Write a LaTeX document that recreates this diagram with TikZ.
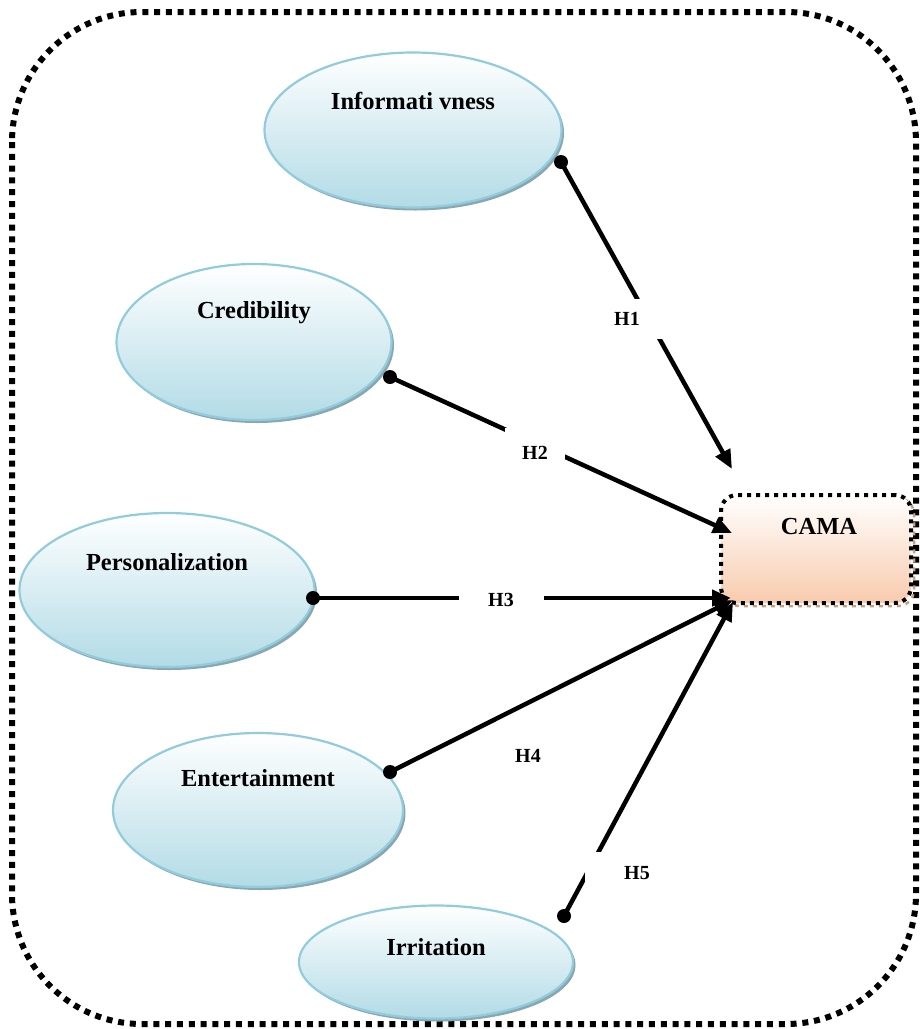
\documentclass[tikz,border=0pt]{standalone}
\usepackage{fontspec}
\setmainfont{Liberation Serif}
\usetikzlibrary{arrows.meta,shapes.geometric}
\definecolor{ellblue}{HTML}{B2DBE6}
\definecolor{ellborder}{HTML}{92CCDC}
\definecolor{ellshadow}{HTML}{88A7B1}
\definecolor{peach}{HTML}{F8CBAD}
\definecolor{camashadow}{HTML}{C9A07F}
\tikzset{
  ell/.style={ellipse, draw=ellborder, line width=2.2pt, top color=white, bottom color=ellblue,
    inner sep=0pt, preaction={fill=ellshadow, transform canvas={shift={(2.5pt,-3pt)}}}},
  ltext/.style={font=\fontsize{24.5}{28}\selectfont\bfseries, inner sep=0pt},
  camabox/.style={rectangle, rounded corners=16pt, top color=white, bottom color=peach,
    draw=black, line width=4pt, dash pattern=on 4pt off 5pt,
    preaction={draw=camashadow, line width=2.5pt, transform canvas={shift={(3pt,-3pt)}}},
    inner sep=0pt},
  frame/.style={line width=6pt, dash pattern=on 6pt off 5.8pt, rounded corners=130pt},
  conn/.style={line width=4.5pt, -{Triangle[length=19pt,width=16pt]}},
  hlab/.style={font=\fontsize{20}{24}\selectfont\bfseries, inner sep=0pt},
  hmask/.style={hlab, fill=white}
}
\begin{document}
\begin{tikzpicture}[x=1pt,y=-1pt]
\useasboundingbox (0,0) rectangle (920,1029);
\draw[frame] (12,12) rectangle (916,1024);

\node[ell, minimum width=297pt, minimum height=155pt,
  label={[ltext, yshift=29pt]center:Informati vness}] (inf) at (413,130) {};
\node[ell, minimum width=275pt, minimum height=156pt,
  label={[ltext, yshift=29pt]center:Credibility}] (cred) at (254,342) {};
\node[ell, minimum width=295pt, minimum height=154pt,
  label={[ltext, yshift=28pt]center:Personalization}] (pers) at (167,590) {};
\node[ell, minimum width=290pt, minimum height=154pt,
  label={[ltext, yshift=32pt]center:Entertainment}] (ent) at (258,810) {};
\node[ell, minimum width=274pt, minimum height=113pt,
  label={[ltext, yshift=15pt]center:Irritation}] (irr) at (436,962) {};

\node[camabox, minimum width=190pt, minimum height=108pt,
  label={[ltext, yshift=22pt, xshift=3pt]center:CAMA}] (cama) at (816,549) {};

\coordinate (s1) at (561,162); \coordinate (t1) at (732,469);
\coordinate (s2) at (390,377); \coordinate (t2) at (732,533);
\coordinate (s3) at (313,598); \coordinate (t3) at (731,598);
\coordinate (s4) at (390,772); \coordinate (t4) at (733,600);
\coordinate (s5) at (564,916); \coordinate (t5) at (733,602);

\draw[conn] (s1) -- (t1);
\draw[conn] (s2) -- (t2);
\draw[conn] (s3) -- (t3);
\draw[conn] (s4) -- (t4);
\draw[conn] (s5) -- (t5);
\foreach \s in {s1,s2,s3,s4,s5} \fill (\s) circle (7pt);

\node[hmask, minimum width=75pt, minimum height=40pt] (h1) at (627,319) {H1};
\node[hmask, minimum width=60pt, minimum height=50pt] (h2) at (535,453) {H2};
\node[hmask, minimum width=85pt, minimum height=30pt] (h3) at (501,600) {H3};
\node[hlab] (h4) at (528,756) {H4};
\node[hmask, minimum width=104pt, minimum height=42pt] (h5) at (637,873) {H5};
\end{tikzpicture}
\end{document}
